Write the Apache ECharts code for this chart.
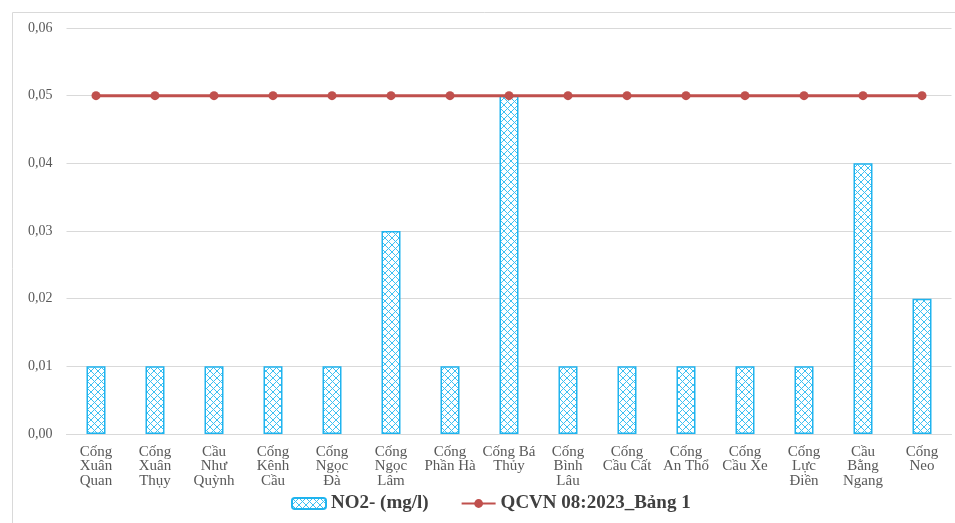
<!DOCTYPE html>
<html><head><meta charset="utf-8">
<script src="https://cdn.jsdelivr.net/npm/echarts@6/dist/echarts.min.js"></script>
<style>html,body{margin:0;padding:0;background:#fff}#c{width:955px;height:523px}</style>
</head><body><div id="c"></div>
<script>
const categories = ["Cống\nXuân\nQuan","Cống\nXuân\nThụy","Cầu\nNhư\nQuỳnh","Cống\nKênh\nCầu","Cống\nNgọc\nĐà","Cống\nNgọc\nLâm","Cống\nPhần Hà","Cống Bá\nThủy","Cống\nBình\nLâu","Cống\nCầu Cất","Cống\nAn Thổ","Cống\nCầu Xe","Cống\nLực\nĐiền","Cầu\nBằng\nNgang","Cống\nNeo"];
const no2Values = [0.01,0.01,0.01,0.01,0.01,0.03,0.01,0.05,0.01,0.01,0.01,0.01,0.01,0.04,0.02];
const qcvnValues = [0.05,0.05,0.05,0.05,0.05,0.05,0.05,0.05,0.05,0.05,0.05,0.05,0.05,0.05,0.05];
const seriesNames = ["NO2- (mg/l)", "QCVN 08:2023_Bảng 1"];

function makePattern(){
  const c = document.createElement('canvas');
  c.width = 7; c.height = 7;
  const ctx = c.getContext('2d');
  ctx.fillStyle = '#ffffff'; ctx.fillRect(0,0,7,7);
  ctx.strokeStyle = '#3cc0f2'; ctx.lineWidth = 1;
  ctx.beginPath();
  ctx.moveTo(0,0); ctx.lineTo(7,7);
  ctx.moveTo(7,0); ctx.lineTo(0,7);
  ctx.stroke();
  return c;
}
const pat = makePattern();
const serif = '"Liberation Serif","DejaVu Serif",serif';
const chart = echarts.init(document.getElementById('c'));
chart.setOption({
  animation:false,
  graphic:[{type:'rect',shape:{x:12.5,y:12.5,width:960,height:530},style:{fill:'none',stroke:'#d9d9d9',lineWidth:1},silent:true,z:-1}],
  grid:{left:66.5,right:3.5,top:28,bottom:89,containLabel:false},
  xAxis:{type:'category',data:categories,
    axisLine:{lineStyle:{color:'#d9d9d9',width:1}},axisTick:{show:false},
    axisLabel:{interval:0,color:'#595959',fontFamily:serif,fontSize:15,lineHeight:14.3,margin:11}},
  yAxis:{type:'value',min:0,max:0.06,interval:0.01,
    axisLine:{show:false},axisTick:{show:false},
    splitLine:{lineStyle:{color:'#d9d9d9',width:1}},
    axisLabel:{color:'#595959',fontFamily:serif,fontSize:14,margin:14,
      formatter:v=>v.toFixed(2).replace('.',',')}},
  legend:{bottom:5,left:286,itemGap:32,itemWidth:34,itemHeight:11,
    textStyle:{fontFamily:serif,fontSize:19,fontWeight:'bold',color:'#404040'},
    data:[seriesNames[0],seriesNames[1]]},
  series:[
    {name:seriesNames[0],type:'bar',data:no2Values,barWidth:19,
      itemStyle:{color:{image:pat,repeat:'repeat'},borderColor:'#1fb4ef',borderWidth:1.5}},
    {name:seriesNames[1],type:'line',data:qcvnValues,symbol:'circle',symbolSize:9,
      lineStyle:{color:'#c0504d',width:3},itemStyle:{color:'#c0504d'}}
  ]
});
</script></body></html>
